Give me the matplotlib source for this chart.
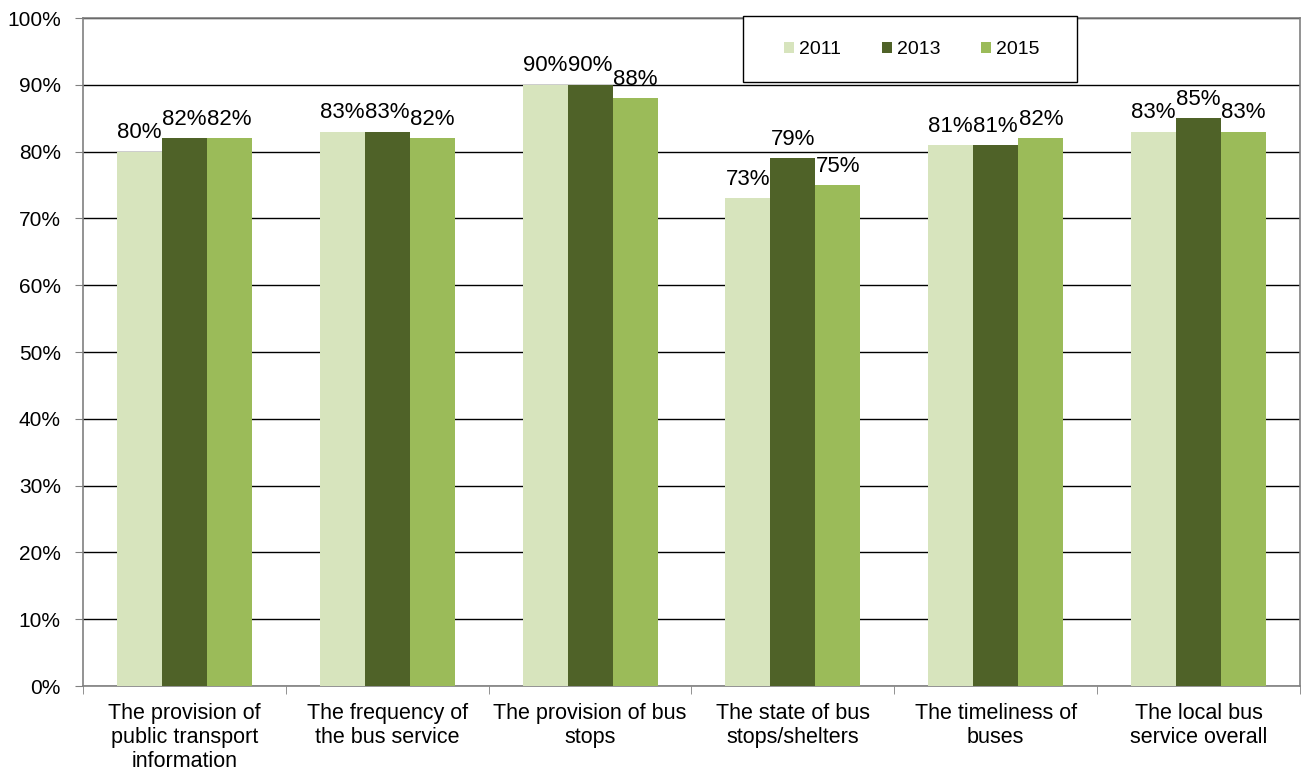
import numpy as np
import matplotlib.pyplot as plt
from matplotlib.patches import Patch, Rectangle
from matplotlib.ticker import PercentFormatter

plt.rcParams['font.family'] = ['Liberation Sans', 'DejaVu Sans']

categories = ["The provision of\npublic transport\ninformation",
              "The frequency of\nthe bus service",
              "The provision of bus\nstops",
              "The state of bus\nstops/shelters",
              "The timeliness of\nbuses",
              "The local bus\nservice overall"]
years = ["2011", "2013", "2015"]
v2011 = [80, 83, 90, 73, 81, 83]
v2013 = [82, 83, 90, 79, 81, 85]
v2015 = [82, 82, 88, 75, 82, 83]
series = [v2011, v2013, v2015]
colors = ['#D7E4BD', '#4F6228', '#9BBB59']

fig = plt.figure(figsize=(13.03, 7.74), dpi=100)
ax = fig.add_axes([83/1303, 1-686/774, 1217/1303, 668/774])

x = np.arange(len(categories))
w = 0.222
for i, (vals, c) in enumerate(zip(series, colors)):
    bars = ax.bar(x + (i - 1) * w, vals, w, color=c, zorder=3)
    ax.bar_label(bars, labels=[f"{v}%" for v in vals], padding=6, fontsize=16)

ax.set_xlim(-0.5, len(categories) - 0.5)
ax.set_ylim(0, 100)
ax.set_yticks(np.arange(0, 101, 10))
ax.yaxis.set_major_formatter(PercentFormatter(decimals=0))
ax.grid(axis='y', color='#000000', linewidth=1, zorder=0)
ax.set_axisbelow(True)

ax.set_xticks(x)
ax.set_xticklabels(categories, fontsize=15.5, linespacing=1.2)
ax.tick_params(axis='x', length=0, pad=12)
ax.set_xticks(np.arange(-0.5, len(categories)), minor=True)
ax.tick_params(axis='x', which='minor', length=6, color='#808080')
ax.tick_params(axis='y', labelsize=15, length=6, color='#808080', pad=10)
for s in ax.spines.values():
    s.set_color('#808080')
    s.set_linewidth(1.2)

# legend box drawn separately so its padding matches the original
fig.patches.append(Rectangle((743/1303, 1-82/774), 334/1303, 66/774,
                             transform=fig.transFigure, facecolor='white',
                             edgecolor='#000000', linewidth=1.0, zorder=4))
handles = [Patch(facecolor=c, label=y) for c, y in zip(colors, years)]
leg = fig.legend(handles=handles, ncol=3, loc='center left',
                 bbox_to_anchor=(784/1303, 1-50/774),
                 fontsize=14, frameon=False,
                 handlelength=0.52, handleheight=0.52, handletextpad=0.25,
                 columnspacing=2.1, borderpad=0, borderaxespad=0)
leg.set_zorder(5)

fig.savefig("out.png", dpi=100)
